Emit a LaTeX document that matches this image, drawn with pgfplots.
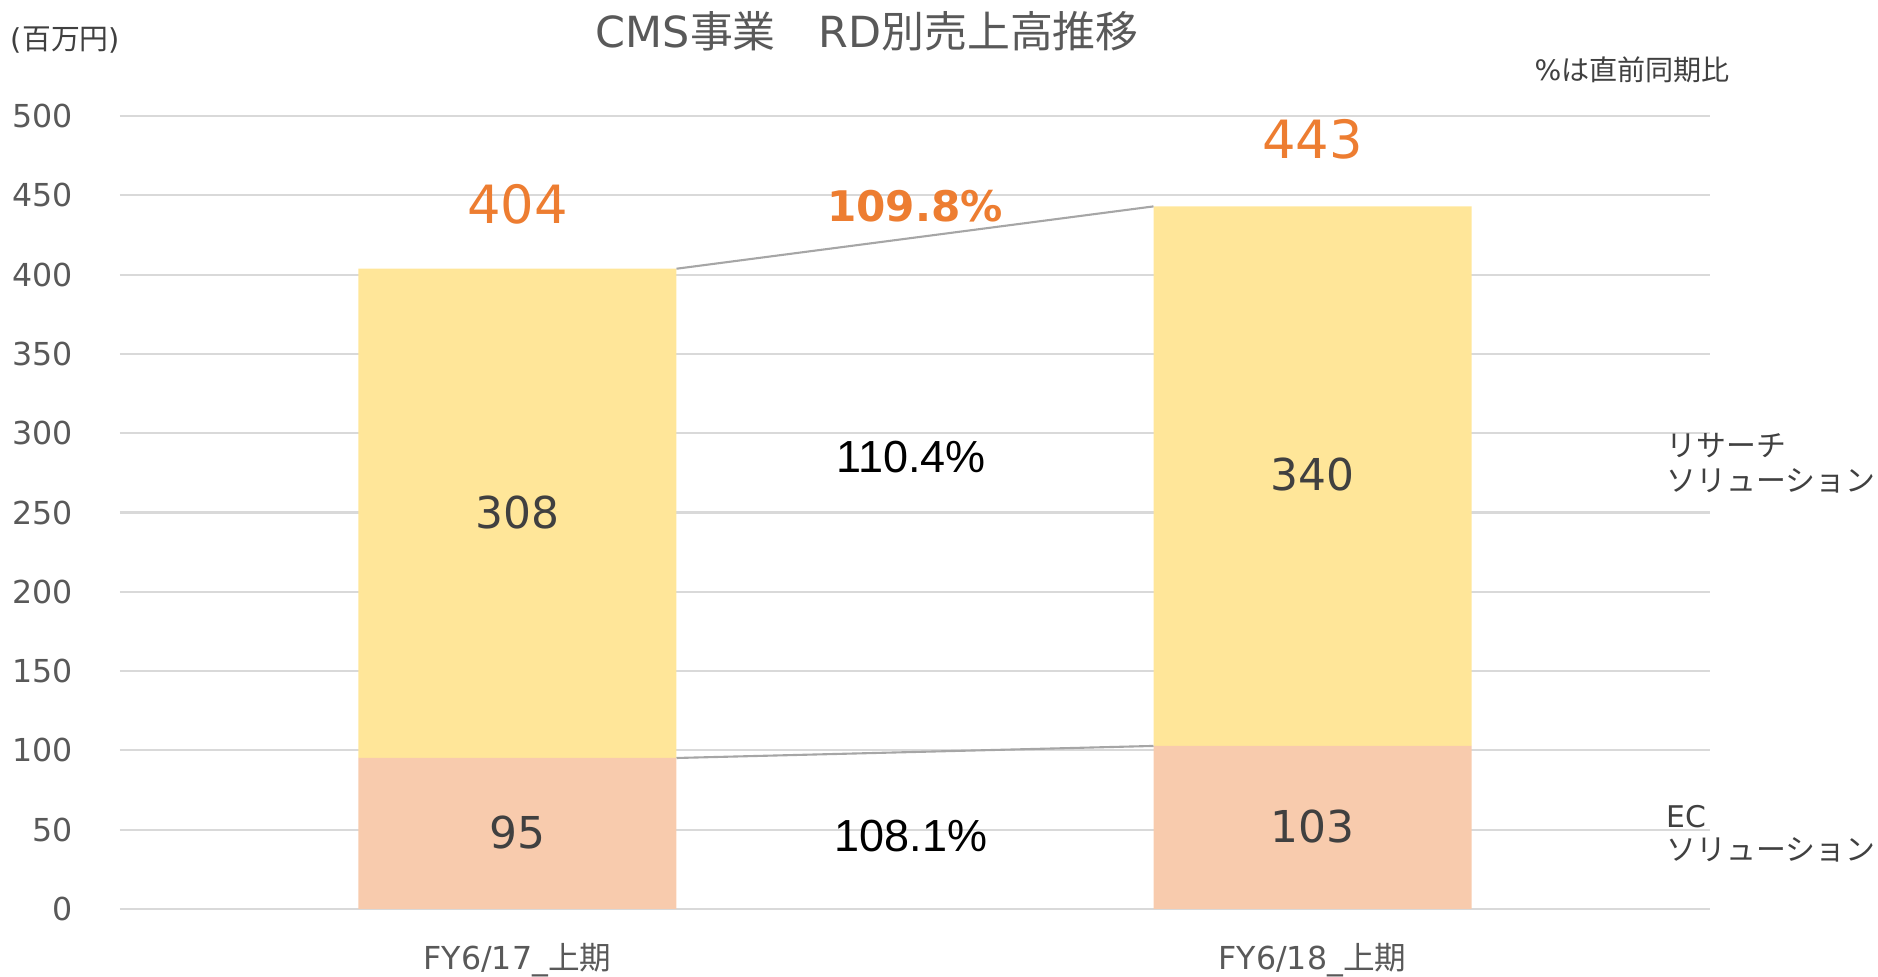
\documentclass[border=0pt]{standalone}
\usepackage{fontspec}
\setmainfont{DejaVu Sans}
\newfontfamily\jp{Noto Sans CJK JP}
\newfontfamily\arial{Liberation Sans}
\usepackage{pgfplots}
\pgfplotsset{compat=1.18}

\definecolor{research}{HTML}{FFE699}
\definecolor{ecsol}{HTML}{F8CBAD}
\definecolor{orangetxt}{HTML}{ED7D31}
\definecolor{ticktxt}{HTML}{595959}
\definecolor{labeltxt}{HTML}{404040}
\definecolor{gridc}{HTML}{D9D9D9}
\definecolor{linkc}{HTML}{A6A6A6}

\newcommand{\fs}[1]{\fontsize{#1}{1.2\dimexpr#1\relax}\selectfont}

\begin{document}
\begin{tikzpicture}
\useasboundingbox (-1.20,-0.68) rectangle (17.58,9.09);
\pgfplotsset{base/.style={
    width=15.9cm, height=7.93cm, scale only axis,
    xmin=-0.5, xmax=1.5, ymin=0, ymax=500, clip=false}}

\begin{axis}[base,
    ybar stacked, bar width=0.4,
    xtick={0,1},
    xticklabels={FY6/17\_{\jp 上期}, FY6/18\_{\jp 上期}},
    ytick={0,50,...,500},
    ymajorgrids,
    grid style={gridc, line width=0.6pt},
    axis line style={draw=none},
    major tick length=0pt,
    tick style={draw=none},
    /pgf/number format/assume math mode=true,
    yticklabel style={font=\fs{9pt}, text=ticktxt, anchor=east, xshift=-0.35cm},
    xticklabel style={font=\fs{9pt}, text=ticktxt, anchor=center, yshift=-0.51cm},
]
\addplot[fill=ecsol, draw=none] coordinates {(0,95.2) (1,102.8)};
\addplot[fill=research, draw=none] coordinates {(0,308.5) (1,340.2)};
\end{axis}

\begin{axis}[base, hide axis]
\addplot[linkc, line width=0.6pt] coordinates {(0.2,403.7) (0.8,443.0)};
\addplot[linkc, line width=0.6pt] coordinates {(0.2,95.2) (0.8,102.8)};

% bar values
\node[text=labeltxt, font=\fs{12.5pt}] at (axis cs:0,48.5) {95};
\node[text=labeltxt, font=\fs{12.5pt}] at (axis cs:1,52) {103};
\node[text=labeltxt, font=\fs{12.5pt}] at (axis cs:0,250) {308};
\node[text=labeltxt, font=\fs{12.5pt}] at (axis cs:1,274) {340};
\node[text=orangetxt, font=\fs{15pt}] at (axis cs:0,444.5) {404};
\node[text=orangetxt, font=\fs{15pt}] at (axis cs:1,485) {443};

% growth rates
\node[text=orangetxt, font=\fs{12pt}\bfseries] at (axis cs:0.50,443) {109.8\%};
\node[text=black, font=\arial\fs{12.8pt}] at (axis cs:0.495,284.7) {110.4\%};
\node[text=black, font=\arial\fs{12.8pt}] at (axis cs:0.495,46) {108.1\%};

% titles and notes
\node[text=ticktxt, font=\fs{12.2pt}] at (axis cs:0.44,553.6) {CMS{\jp 事業　}RD{\jp 別売上高推移}};
\node[text=labeltxt, font=\fs{8.2pt}, anchor=west, inner sep=0pt] at (axis cs:-0.638,548) {({\jp 百万円})};
\node[text=labeltxt, font=\fs{8pt}, anchor=east, inner sep=0pt] at (axis cs:1.526,529) {\%{\jp は直前同期比}};

% series labels
\node[text=labeltxt, font=\fs{8.5pt}, anchor=west, inner sep=0pt] at (axis cs:1.445,292) {\jp リサーチ};
\node[text=labeltxt, font=\fs{8.5pt}, anchor=west, inner sep=0pt] at (axis cs:1.445,270) {\jp ソリューション};
\node[text=labeltxt, font=\fs{8.5pt}, anchor=west, inner sep=0pt] at (axis cs:1.445,58) {EC};
\node[text=labeltxt, font=\fs{8.5pt}, anchor=west, inner sep=0pt] at (axis cs:1.445,37) {\jp ソリューション};
\end{axis}
\end{tikzpicture}
\end{document}
